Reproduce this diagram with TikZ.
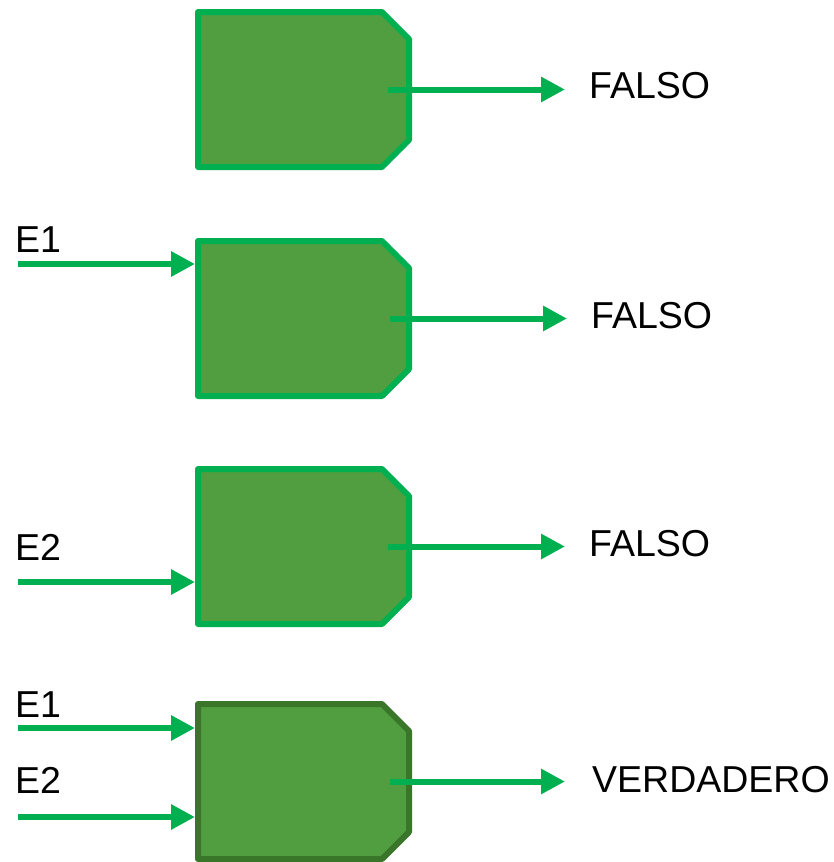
\documentclass[tikz,border=0pt]{standalone}
\usepackage{fontspec}
\setmainfont{Liberation Sans}
\usetikzlibrary{arrows.meta}
\definecolor{linegreen}{RGB}{0,176,80}
\definecolor{boxgreen}{RGB}{80,158,64}
\definecolor{edgegreen}{RGB}{58,118,42}

\begin{document}
\begin{tikzpicture}[x=1pt, y=-1pt, >={Triangle[length=24pt,width=24pt]},
		font=\fontsize{37.5}{44}\selectfont,
		gate/.style={minimum width=211pt, minimum height=155pt, inner sep=0pt, outer sep=0pt},
		gateline/.style={draw=#1, fill=boxgreen, line width=6pt, line join=round},
		wire/.style={draw=linegreen, line width=6pt, ->},
		lbl/.style={anchor=west, inner sep=0pt}]
		\useasboundingbox (0,0) rectangle (833,862);
		% gates
		\node[gate] (box1) at (303.5,89.5) {};
		\node[gate] (box2) at (303.5,318.5) {};
		\node[gate] (box3) at (303.5,546.5) {};
		\node[gate] (box4) at (303.5,781.5) {};
		\foreach \b/\c in {box1/linegreen, box2/linegreen, box3/linegreen, box4/edgegreen}
			\draw[gateline=\c] (\b.north west) -- ([xshift=-27pt]\b.north east)
				-- ([yshift=-27pt]\b.north east) -- ([yshift=27pt]\b.south east)
				-- ([xshift=-27pt]\b.south east) -- (\b.south west) -- cycle;
		% outputs
		\node[lbl] (out1) at (589,86) {FALSO};
		\node[lbl] (out2) at (591,316) {FALSO};
		\node[lbl] (out3) at (589,544) {FALSO};
		\node[lbl] (out4) at (592,780) {VERDADERO};
		\draw[wire, shorten >=24pt] ([xshift=-21pt]box1.east) -- (out1.west |- box1.east);
		\draw[wire, shorten >=24pt] ([xshift=-19pt]box2.east) -- (out2.west |- box2.east);
		\draw[wire, shorten >=24pt] ([xshift=-21pt]box3.east) -- (out3.west |- box3.east);
		\draw[wire, shorten >=27pt] ([xshift=-19pt]box4.east) -- (out4.west |- box4.east);
		% inputs
		\node[lbl] (e1b) at (15,240) {E1};
		\node[lbl] (e2c) at (15,547) {E2};
		\node[lbl] (e1d) at (15,704.5) {E1};
		\node[lbl] (e2d) at (15,780) {E2};
		\coordinate (in2) at (18,264);
		\coordinate (in3) at (18,582);
		\coordinate (in4a) at (18,728);
		\coordinate (in4b) at (18,817);
		\draw[wire, shorten >=3pt] (in2) -- (in2 -| box2.west);
		\draw[wire, shorten >=3pt] (in3) -- (in3 -| box3.west);
		\draw[wire, shorten >=3pt] (in4a) -- (in4a -| box4.west);
		\draw[wire, shorten >=3pt] (in4b) -- (in4b -| box4.west);
	\end{tikzpicture}
\end{document}
